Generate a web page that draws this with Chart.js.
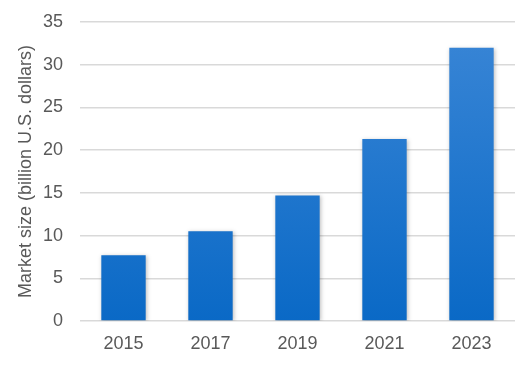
<!DOCTYPE html>
<html>
<head>
<meta charset="utf-8">
<script src="https://cdn.jsdelivr.net/npm/chart.js@4/dist/chart.umd.min.js"></script>
<style>
html,body{margin:0;padding:0;background:#fff;}
#wrap{width:530px;height:368px;}
</style>
</head>
<body>
<div id="wrap"><canvas id="c" width="530" height="368"></canvas></div>
<script>
const categories = ["2015", "2017", "2019", "2021", "2023"];
const marketSize = [7.7, 10.5, 14.7, 21.3, 32.0];
const yTicks = [0, 5, 10, 15, 20, 25, 30, 35];
const yTitle = "Market size (billion U.S. dollars)";

const FONT = "'Liberation Sans', Arial, sans-serif";
const TEXT = "#595959";

function barGradient(ctx) {
  const chart = ctx.chart;
  const area = chart.chartArea;
  if (!area) return "#1a73cc";
  const el = ctx.element;
  const top = el && isFinite(el.y) ? el.y : area.top;
  const bottom = el && isFinite(el.base) ? el.base : area.bottom;
  const g = chart.ctx.createLinearGradient(0, top, 0, Math.max(bottom, top + 1));
  g.addColorStop(0, "#3a86d6");
  g.addColorStop(1, "#0a69c6");
  return g;
}

const shadowPlugin = {
  id: "barShadow",
  beforeDatasetsDraw(chart) {
    const c = chart.ctx;
    c.save();
    c.shadowColor = "rgba(0,0,0,0.25)";
    c.shadowBlur = 4;
    c.shadowOffsetX = 1;
    c.shadowOffsetY = 1;
  },
  afterDatasetsDraw(chart) {
    chart.ctx.restore();
  }
};

new Chart(document.getElementById("c"), {
  type: "bar",
  data: {
    labels: categories,
    datasets: [{
      data: marketSize,
      backgroundColor: barGradient,
      borderWidth: 0,
      categoryPercentage: 1.0,
      barPercentage: 0.51
    }]
  },
  plugins: [shadowPlugin],
  options: {
    responsive: false,
    animation: false,
    devicePixelRatio: 1,
    layout: { padding: { top: 22, right: 15, left: 0, bottom: 0 } },
    plugins: {
      legend: { display: false },
      tooltip: { enabled: false }
    },
    scales: {
      x: {
        grid: { display: false, drawTicks: false },
        border: { display: false },
        ticks: {
          color: TEXT,
          font: { family: FONT, size: 18 },
          padding: 12,
          maxRotation: 0
        },
        afterFit(scale) { scale.height = 47; }
      },
      y: {
        min: 0,
        max: 35,
        afterBuildTicks(scale) { scale.ticks = yTicks.map(v => ({ value: v })); },
        grid: { color: "#d9d9d9", lineWidth: 1.5, drawTicks: false },
        border: { display: false },
        ticks: {
          color: TEXT,
          font: { family: FONT, size: 18 },
          padding: 17
        },
        title: {
          display: true,
          text: yTitle,
          color: TEXT,
          font: { family: FONT, size: 18 },
          padding: { top: 15, bottom: 0 }
        },
        afterFit(scale) {
          scale.width = 80;
          scale.paddingTop = 0;
          scale.paddingBottom = 0;
        }
      }
    }
  }
});
</script>
</body>
</html>
